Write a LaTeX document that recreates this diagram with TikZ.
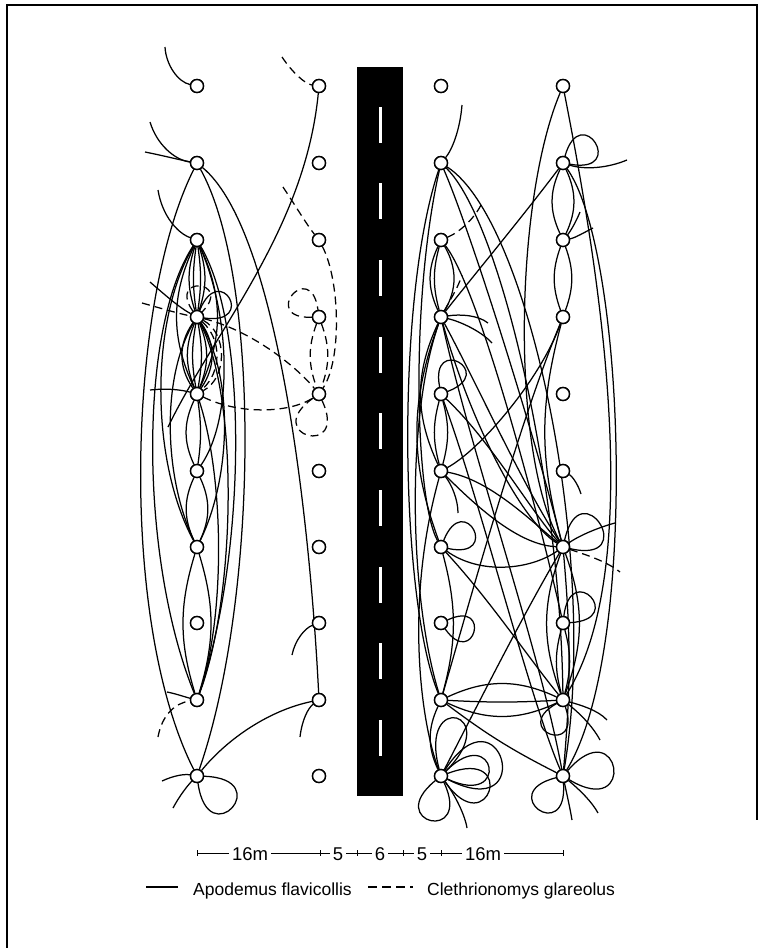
\documentclass[tikz,border=0pt]{standalone}
\usepackage{fontspec}
\setmainfont{Liberation Sans}
\newcommand{\myloop}[5][ln]{\draw[#1] (#2) .. controls +({#3-#4}:#5) and +({#3+#4}:#5) .. (#2);}
\begin{document}
\begin{tikzpicture}[x=1pt,y=-1pt,
  nd/.style={circle,draw,line width=1.4pt,minimum size=13pt,inner sep=0pt,fill=white},
  ln/.style={line width=1.25pt},
  dl/.style={line width=1.25pt,dash pattern=on 8pt off 5pt},
  lab/.style={font=\fontsize{18.5}{22}\selectfont,inner sep=0pt},
  leg/.style={font=\fontsize{17.5}{21}\selectfont,inner sep=0pt}]
\useasboundingbox (0,0) rectangle (761,948);
% frame
\draw[line width=1.4pt] (7,948) -- (7,5) -- (757,5) -- (757,820);
% road
\fill (357,67) rectangle (403,796);
\foreach \y in {107,183,260,337,413,490,567,643,720}
  \fill[white] (379,\y) rectangle (382,\y+36);
% nodes
\foreach \c/\x in {A/197,B/319,C/441,D/563}{
  \foreach \r/\y in {1/86,2/163,3/240,4/317,5/394,6/471,7/547,8/623,9/700,10/776}{
    \node[nd] (\c\r) at (\x,\y) {};
  }
}
% ---------------- left panel ----------------
\draw[ln] (165,47) .. controls (166,65) and (178,82) .. (A1);
\draw[dl] (282,57) .. controls (292,72) and (305,84) .. (B1);
\draw[ln] (B1) .. controls (305,230) and (215,330) .. (168,427);
\draw[ln] (150,122) .. controls (157,145) and (175,160) .. (A2);
\draw[ln] (145,152) .. controls (165,156) and (180,160) .. (A2);
\draw[ln] (158,190) .. controls (162,215) and (177,233) .. (A3);
\draw[ln] (150,282) .. controls (165,295) and (180,308) .. (A4);
\draw[ln] (150,390) .. controls (168,388) and (182,390) .. (A5);
% big arcs
\draw[ln] (A2) .. controls (128,300) and (118,620) .. (A10);
\draw[ln] (A3) .. controls (138,330) and (140,560) .. (A9);
\draw[ln] (A3) .. controls (150,320) and (150,460) .. (A7);
\draw[ln] (A2) .. controls (262,280) and (258,600) .. (A10);
\draw[ln] (A2) .. controls (278,230) and (310,520) .. (B9);
\draw[ln] (A3) .. controls (250,330) and (245,560) .. (A9);
\draw[ln] (A4) .. controls (240,400) and (235,600) .. (A9);
\draw[ln] (A4) .. controls (235,380) and (230,480) .. (A7);
\draw[ln] (A3) .. controls (232,320) and (232,420) .. (A6);
\draw[ln] (A4) .. controls (160,380) and (165,480) .. (A7);
% spindles
\foreach \b in {8,18} {\draw[ln] (A3) to[bend left=\b] (A4); \draw[ln] (A3) to[bend right=\b] (A4);}
\draw[ln] (A3) to[bend left=25] (A5); \draw[ln] (A3) to[bend right=25] (A5);
\foreach \b in {10,22,35} {\draw[ln] (A4) to[bend left=\b] (A5); \draw[ln] (A4) to[bend right=\b] (A5);}
\draw[dl] (A4) to[bend left=48] (A5);
\draw[dl] (A4) to[bend left=62] (A5);
\draw[ln] (A5) to[bend left=8] (A6); \draw[ln] (A5) to[bend right=25] (A6);
\draw[ln] (A6) to[bend left=25] (A7); \draw[ln] (A6) to[bend right=25] (A7);
\draw[ln] (A7) to[bend left=17] (A9); \draw[ln] (A7) to[bend right=17] (A9);
\draw[ln] (A5) .. controls (225,480) and (225,620) .. (A9);
% A4 loops and dashed
\myloop{A4}{-30}{38}{61}
\myloop[dl]{A4}{-85}{40}{52}
\draw[dl] (142,303) .. controls (160,308) and (180,314) .. (A4);
\draw[dl] (A4) .. controls (250,330) and (295,365) .. (B5);
\draw[dl] (A5) .. controls (240,415) and (290,413) .. (B5);
% B dashed
\draw[dl] (283,187) .. controls (295,205) and (307,225) .. (B3);
\draw[dl] (B3) .. controls (340,280) and (342,360) .. (B5);
\myloop[dl]{B4}{-140}{42}{60}
\draw[dl] (B4) to[bend left=20] (B5);
\draw[dl] (B4) to[bend right=20] (B5);
\myloop[dl]{B5}{105}{40}{72}
% lower left
\draw[dl] (158,737) .. controls (162,715) and (175,703) .. (A9);
\draw[ln] (167,692) .. controls (177,694) and (185,697) .. (A9);
\myloop{A10}{42}{40}{80}
\draw[ln] (162,781) .. controls (175,775) and (185,774) .. (A10);
\draw[ln] (173,808) .. controls (180,795) and (188,785) .. (A10);
\draw[ln] (B9) .. controls (270,710) and (228,738) .. (A10);
\draw[ln] (292,655) .. controls (295,640) and (305,628) .. (B8);
\draw[ln] (300,737) .. controls (302,720) and (308,708) .. (B9);
% ---------------- right panel ----------------
\draw[ln] (462,105) .. controls (460,130) and (452,150) .. (C2);
\draw[ln] (C2) .. controls (395,300) and (400,600) .. (C9);
\draw[ln] (C2) .. controls (410,300) and (415,500) .. (C7);
\draw[ln] (C2) .. controls (470,230) and (530,420) .. (D7);
\draw[ln] (C2) .. controls (500,220) and (560,480) .. (D9);
\draw[ln] (C2) .. controls (530,220) and (600,560) .. (D10);
\draw[dl] (C3) .. controls (460,232) and (475,218) .. (482,203);
\draw[dl] (C4) .. controls (450,300) and (458,288) .. (462,275);
\draw[ln] (C3) to[bend right=25] (C4);
\draw[ln] (C3) to[bend right=15] (C4);
\draw[ln] (C3) to[bend left=30] (C4);
\draw[ln] (C3) .. controls (480,290) and (540,520) .. (D8);
\draw[ln] (D1) .. controls (515,200) and (510,450) .. (D7);
\draw[ln] (D1) .. controls (595,250) and (650,560) .. (D9);
\myloop{D2}{-32}{42}{66}
\draw[ln] (D2) .. controls (585,170) and (608,168) .. (627,160);
\draw[ln] (D2) .. controls (520,220) and (470,280) .. (C4);
\draw[ln] (D2) to[bend left=25] (D3); \draw[ln] (D2) to[bend right=25] (D3);
\draw[ln] (D2) .. controls (625,250) and (640,650) .. (D10);
\draw[ln] (D3) .. controls (570,232) and (576,222) .. (580,212);
\draw[ln] (D3) .. controls (575,238) and (585,232) .. (593,228);
\draw[ln] (D3) to[bend left=20] (D4); \draw[ln] (D3) to[bend right=20] (D4);
\draw[ln] (D4) .. controls (540,380) and (480,450) .. (C6);
\draw[ln] (D4) .. controls (520,420) and (470,600) .. (C9);
\draw[ln] (D4) to[bend right=15] (D7);
\draw[ln] (C4) .. controls (460,314) and (478,315) .. (488,323);
\draw[ln] (C4) .. controls (462,322) and (482,332) .. (492,343);
\draw[ln] (C4) .. controls (480,390) and (520,480) .. (D7);
\draw[ln] (C4) .. controls (470,420) and (520,520) .. (D7);
\draw[ln] (C4) .. controls (470,450) and (540,650) .. (D10);
\draw[ln] (C4) to[bend right=25] (C6);
\draw[ln] (C4) to[bend right=20] (C7);
\draw[ln] (C4) .. controls (405,420) and (410,600) .. (C9);
\myloop{C5}{-61}{40}{61}
\draw[ln] (C5) .. controls (490,440) and (530,510) .. (D7);
\draw[ln] (C5) .. controls (480,500) and (530,700) .. (D10);
\draw[ln] (C5) to[bend left=15] (C6); \draw[ln] (C5) to[bend right=15] (C6);
\draw[ln] (C6) .. controls (452,485) and (458,500) .. (458,513);
\draw[ln] (C6) .. controls (490,480) and (530,520) .. (D7);
\draw[ln] (C6) .. controls (480,510) and (520,545) .. (D7);
\draw[ln] (C6) .. controls (405,600) and (420,720) .. (C10);
\draw[ln] (D6) .. controls (572,476) and (578,484) .. (581,494);
\myloop{D7}{-32}{45}{80}
\draw[ln] (D7) .. controls (580,535) and (600,527) .. (615,523);
\draw[dl] (D7) .. controls (580,553) and (605,560) .. (620,572);
\draw[ln] (D7) to[bend left=20] (D9); \draw[ln] (D7) to[bend right=20] (D9);
\draw[ln] (D7) .. controls (520,620) and (470,720) .. (C10);
\draw[ln] (D7) to[bend left=5] (D10);
\myloop{C7}{-28}{40}{62}
\draw[ln] (C7) .. controls (480,575) and (530,570) .. (D7);
\draw[ln] (C7) to[bend left=15] (C9);
\draw[ln] (C7) .. controls (490,600) and (530,660) .. (D9);
\myloop{C8}{15}{40}{57}
\myloop{D8}{-43}{40}{64}
\draw[ln] (D8) to[bend left=15] (D9); \draw[ln] (D8) to[bend right=15] (D9);
\draw[ln] (C9) to[bend left=25] (D9);
\draw[ln] (C9) to[bend right=3] (D9);
\draw[ln] (C9) to[bend right=25] (D9);
\myloop{D9}{111}{40}{61}
\draw[ln] (D9) .. controls (580,705) and (598,710) .. (607,720);
\draw[ln] (D9) .. controls (578,712) and (592,725) .. (600,740);
\draw[ln] (C9) to[bend right=25] (C10);
\draw[ln] (C9) to[bend right=5] (D10);
\myloop{C10}{-75}{30}{90}
\myloop{C10}{-15}{42}{110}
\myloop{C10}{-10}{35}{77}
\myloop{C10}{17}{38}{83}
\myloop{C10}{103}{38}{75}
\draw[ln] (C10) .. controls (455,795) and (465,815) .. (467,828);
\myloop{D10}{126}{40}{70}
\myloop{D10}{-9}{40}{87}
\draw[ln] (D10) .. controls (567,795) and (570,808) .. (572,820);
\draw[ln] (D10) .. controls (580,790) and (592,802) .. (598,813);
% nodes on top
\foreach \x in {197,319,441,563}{
  \foreach \y in {86,163,240,317,394,471,547,623,700,776}{
    \node[nd] at (\x,\y) {};
  }
}
% scale bar
\draw[line width=0.9pt] (197,853) -- (563,853);
\foreach \x in {197,320,357,403,441,563} \draw[line width=0.9pt] (\x,850) -- (\x,856);
\node[lab,fill=white,inner xsep=3pt,anchor=base] (s1) at (250,860) {16m};
\node[lab,fill=white,inner xsep=3pt,anchor=base] (s2) at (338,860) {5};
\node[lab,fill=white,inner xsep=3pt,anchor=base] (s3) at (380,860) {6};
\node[lab,fill=white,inner xsep=3pt,anchor=base] (s4) at (422,860) {5};
\node[lab,fill=white,inner xsep=3pt,anchor=base] (s5) at (483,860) {16m};
% legend
\draw[line width=1.2pt] (146,887) -- (178,887);
\node[leg,anchor=base west] (l1) at (193,895) {Apodemus flavicollis};
\draw[line width=1.2pt,dash pattern=on 9pt off 5pt] (368,887) -- (413,887);
\node[leg,anchor=base west] (l2) at (427,895) {Clethrionomys glareolus};
\end{tikzpicture}
\end{document}
